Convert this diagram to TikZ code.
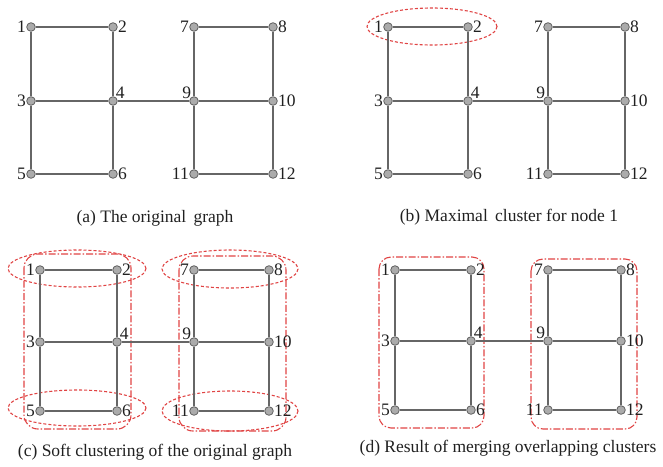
\documentclass[tikz,border=0pt]{standalone}
\usepackage{fontspec}
\setmainfont{Liberation Serif}
\definecolor{edgegray}{HTML}{666666}
\definecolor{nodefill}{HTML}{ABABAB}
\definecolor{nodedraw}{HTML}{606060}
\definecolor{clred}{HTML}{E04444}
\definecolor{txt}{HTML}{202020}
\begin{document}
\begin{tikzpicture}[x=1pt,y=-1pt,
  vtx/.style={circle,fill=nodefill,draw=nodedraw,line width=0.8pt,minimum size=8.6pt,inner sep=0pt},
  lbl/.style={inner sep=0pt,text=txt,font=\fontsize{17.5}{17.5}\selectfont},
  edg/.style={draw=edgegray,line width=1.6pt},
  captxt/.style={inner sep=0pt,text=txt,font=\fontsize{17.5}{18}\selectfont},
  clell/.style={draw=clred,line width=1.1pt,dash pattern=on 3pt off 2pt},
  clrect/.style={draw=clred,line width=1.1pt,rounded corners=12pt,dash pattern=on 7pt off 2pt on 1.5pt off 2pt},
  clrectc/.style={draw=clred,line width=1.1pt,rounded corners=14pt,dash pattern=on 7pt off 2pt on 1.5pt off 2pt},
  label distance=0.3pt]
\useasboundingbox (0,0) rectangle (663,466);
% #1 prefix, #2..#5 columns, #6..#8 rows
\newcommand\graphpanel[8]{%
  \node[vtx,label={[lbl]left:1}]  (#1n1)  at (#2,#6) {};
  \node[vtx,label={[lbl]right:2}] (#1n2)  at (#3,#6) {};
  \node[vtx,label={[lbl]left:3}]  (#1n3)  at (#2,#7) {};
  \node[vtx,label={[lbl,label distance=-1pt]north east:4}] (#1n4) at (#3,#7) {};
  \node[vtx,label={[lbl]left:5}]  (#1n5)  at (#2,#8) {};
  \node[vtx,label={[lbl]right:6}] (#1n6)  at (#3,#8) {};
  \node[vtx,label={[lbl]left:7}]  (#1n7)  at (#4,#6) {};
  \node[vtx,label={[lbl]right:8}] (#1n8)  at (#5,#6) {};
  \node[vtx,label={[lbl,label distance=-1pt]north west:9}] (#1n9) at (#4,#7) {};
  \node[vtx,label={[lbl]right:10}] (#1n10) at (#5,#7) {};
  \node[vtx,label={[lbl]left:11}]  (#1n11) at (#4,#8) {};
  \node[vtx,label={[lbl]right:12}] (#1n12) at (#5,#8) {};
  \path[edg] (#1n1)--(#1n2) (#1n1)--(#1n3) (#1n2)--(#1n4) (#1n3)--(#1n4)
    (#1n3)--(#1n5) (#1n4)--(#1n6) (#1n5)--(#1n6) (#1n4)--(#1n9)
    (#1n7)--(#1n8) (#1n7)--(#1n9) (#1n8)--(#1n10) (#1n9)--(#1n10)
    (#1n9)--(#1n11) (#1n10)--(#1n12) (#1n11)--(#1n12);
}
% (a)
\graphpanel{a}{31}{113}{194}{273}{27}{101}{174}
\node[captxt] (capa) at (155,218) {(a) The original\, graph};
% (b)
\draw[clell] (432,26.5) ellipse [x radius=65, y radius=18.5];
\graphpanel{b}{388}{468}{548}{625}{27}{101}{174}
\node[captxt] (capb) at (509,217) {(b) Maximal\, cluster for node 1};
% (c)
\draw[clell] (77,268.5) ellipse [x radius=69, y radius=18.5];
\draw[clell] (230,269) ellipse [x radius=68, y radius=19];
\draw[clell] (77,408) ellipse [x radius=69, y radius=18];
\draw[clell] (230,411) ellipse [x radius=68, y radius=20];
\draw[clrectc] (24,254) rectangle (131,429);
\draw[clrectc] (179,256) rectangle (286,431);
\graphpanel{c}{40}{117}{194}{269}{270}{342}{411}
\node[captxt] (capc) at (155,452) {(c) Soft clustering of the original graph};
% (d)
\draw[clrect] (379,257) rectangle (484,428);
\draw[clrect] (531,259) rectangle (637,429);
\graphpanel{d}{395}{471}{548}{621}{270}{341}{410}
\node[captxt] (capd) at (508,448) {(d) Result of merging overlapping clusters};
\end{tikzpicture}
\end{document}
